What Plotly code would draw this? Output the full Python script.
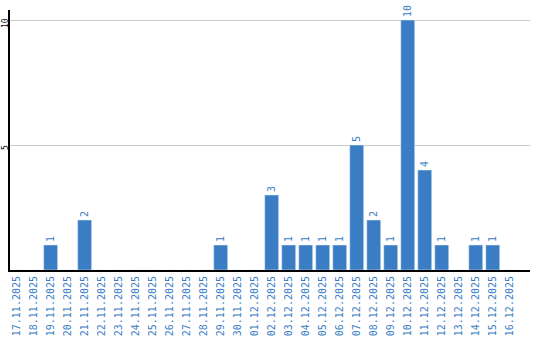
import plotly.graph_objects as go

dates = ["17.11.2025","18.11.2025","19.11.2025","20.11.2025","21.11.2025","22.11.2025",
         "23.11.2025","24.11.2025","25.11.2025","26.11.2025","27.11.2025","28.11.2025",
         "29.11.2025","30.11.2025","01.12.2025","02.12.2025","03.12.2025","04.12.2025",
         "05.12.2025","06.12.2025","07.12.2025","08.12.2025","09.12.2025","10.12.2025",
         "11.12.2025","12.12.2025","13.12.2025","14.12.2025","15.12.2025","16.12.2025"]
values = [0,0,1,0,2,0,0,0,0,0,0,0,1,0,0,3,1,1,1,1,5,2,1,10,4,1,0,1,1,0]
labels = [str(v) if v > 0 else "" for v in values]
y_ticks = [5, 10]
y_ticktext = ["5", "10"]

blue = "#3b7dc4"
fig = go.Figure(go.Bar(
    x=dates, y=values, text=labels, textposition="outside", textangle=-90,
    marker_color=blue, width=0.82, cliponaxis=False,
    textfont=dict(family="DejaVu Sans Mono", size=10, color=blue),
))
fig.update_layout(
    width=540, height=340, margin=dict(l=10, r=10, t=10, b=70),
    plot_bgcolor="white", paper_bgcolor="white", showlegend=False,
    uniformtext=dict(minsize=10, mode="show"),
)
for v, t in zip(y_ticks, y_ticktext):
    fig.add_annotation(x=0, xref="paper", y=v, yref="y", text=t, showarrow=False,
                       textangle=-90, xanchor="center", yanchor="middle",
                       xshift=-5, yshift=-3,
                       font=dict(family="DejaVu Sans Mono", size=8, color="black"))
fig.update_xaxes(type="category", range=[-0.39, 30.19], tickangle=-90, automargin=False,
                 tickfont=dict(family="DejaVu Sans Mono", size=10, color=blue),
                 showline=True, linecolor="black", linewidth=2, ticks="", showgrid=False)
fig.update_yaxes(range=[0, 10.4], tickvals=y_ticks, showticklabels=False,
                 automargin=False,
                 showline=True, linecolor="black", linewidth=2, gridcolor="#cccccc",
                 zeroline=False, ticks="")
fig.write_html("out.html")
